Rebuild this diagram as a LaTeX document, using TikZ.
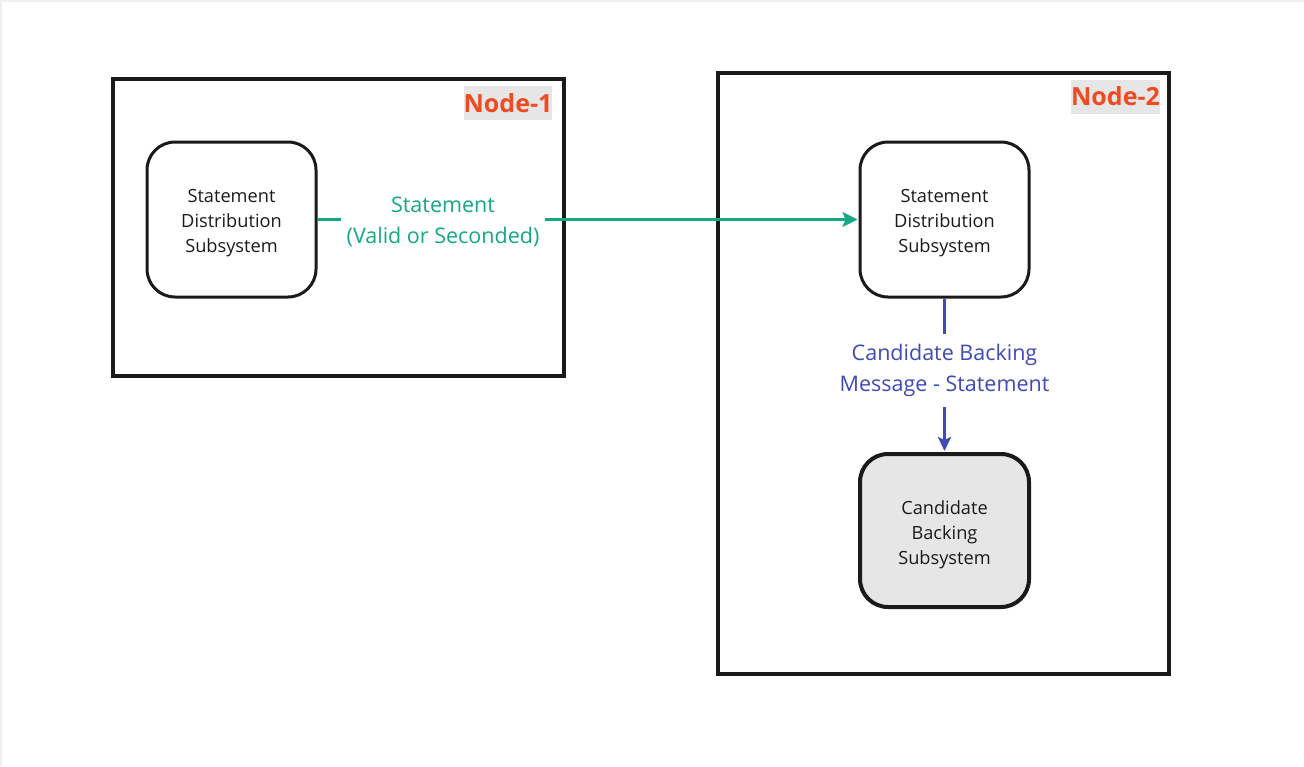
\documentclass[tikz,border=0pt]{standalone}
\usepackage{fontspec}
\setmainfont{Open Sans}
\usetikzlibrary{arrows.meta}
\definecolor{nodered}{RGB}{240,74,35}
\definecolor{msggreen}{RGB}{20,168,134}
\definecolor{msgblue}{RGB}{63,74,182}
\definecolor{boxgray}{RGB}{230,230,230}
\definecolor{inkblack}{RGB}{26,26,26}
\newcommand\dropby[1]{\rule{0pt}{#1}}
\begin{document}
\begin{tikzpicture}[x=1pt,y=-1pt,
		groupbox/.style={draw=inkblack,line width=4pt,minimum width=451pt,minimum height=297pt,inner sep=0pt},
		grouptag/.style={fill=boxgray,text=nodered,font=\bfseries\fontsize{25}{30}\selectfont,minimum width=88pt,minimum height=34pt,inner sep=0pt},
		subsys/.style={draw=inkblack,line width=3pt,rounded corners=28pt,minimum width=169pt,minimum height=155pt,align=center,text=inkblack,font=\fontsize{18.2}{25}\selectfont},
		msg/.style={fill=white,align=center,font=\fontsize{21.5}{31}\selectfont}]
	\useasboundingbox (0,0) rectangle (1304,766);
	\draw[gray!12,line width=1.5pt] (1,766) -- (1,1) -- (1304,1);
	% groups
	\node[groupbox] (grp1) at (338.5,227.5) {};
	\node[groupbox,minimum height=601pt] (grp2) at (943.5,373.5) {};
	\node[grouptag] (tag1) at (508,103) {Node-1};
	\node[grouptag] (tag2) at (1115.5,96.5) {Node-2};
	% subsystems
	\node[subsys] (sds1) at (231.5,219.5) {\dropby{19.5pt}Statement\\Distribution\\Subsystem};
	\node[subsys] (sds2) at (944.5,219.5) {\dropby{19.5pt}Statement\\Distribution\\Subsystem};
	\node[subsys,fill=boxgray,line width=4pt,minimum height=153pt] (cbs) at (944.5,530.5) {\dropby{21.5pt}Candidate\\Backing\\Subsystem};
	% messages
	\draw[msggreen,line width=2.5pt,-{Stealth[length=15pt,width=15pt,inset=3pt]},shorten >=1pt] (sds1.east) -- node[msg,pos=0.232,text=msggreen,inner xsep=6pt] {\dropby{20pt}Statement\\(Valid or Seconded)} (sds2.west);
	\draw[msgblue,line width=2.5pt,-{Stealth[length=14pt,width=13pt,inset=3pt]},shorten >=1pt] (sds2.south) -- node[msg,pos=0.47,text=msgblue,inner ysep=10pt,inner xsep=2pt] {Candidate Backing\\Message - Statement} (cbs.north);
\end{tikzpicture}
\end{document}
